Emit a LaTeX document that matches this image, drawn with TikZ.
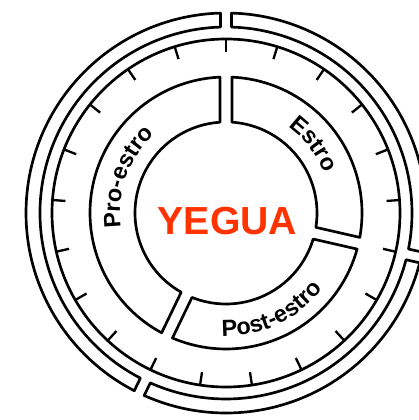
\documentclass[tikz,border=0pt]{standalone}
\usepackage{fontspec}
\setmainfont{Liberation Sans}
\usepackage{xcolor}
\usepackage{tikz}
\usetikzlibrary{decorations.text}
\definecolor{yeguared}{RGB}{255,51,0}

\begin{document}
\begin{tikzpicture}[x=0.6pt,y=0.6pt,
        ring/.style={line width=1.6pt,line join=round},
        daytick/.style={line width=1.4pt},
        phase/.style={decorate,decoration={text along path,text align=center,
            text={|\fontsize{14}{16}\selectfont\bfseries|#1}}},
        title/.style={font=\fontsize{23.5}{28}\selectfont\bfseries,text=yeguared}]
        \useasboundingbox (-226,-207) rectangle (193,213);
        \clip (-226,-207) rectangle (193,213);
        % phases and outer band, same cuts
        \foreach \a/\b in {90/244.286,-12.857/90,-115.714/-12.857}{
            \draw[ring] ({\a+asin(6/136)}:136) arc[start angle={\a+asin(6/136)},end angle={\b-asin(6/136)},radius=136]
                -- ({\b-asin(6/91)}:91) arc[start angle={\b-asin(6/91)},end angle={\a+asin(6/91)},radius=91] -- cycle;
            \draw[ring] ({\a+asin(5.5/200)}:200) arc[start angle={\a+asin(5.5/200)},end angle={\b-asin(5.5/200)},radius=200]
                -- ({\b-asin(5.5/186)}:186) arc[start angle={\b-asin(5.5/186)},end angle={\a+asin(5.5/186)},radius=186] -- cycle;
        }
        % day scale, 21 days
        \draw[ring] (0,0) circle[radius=174];
        \foreach \k in {0,...,20}
            \draw[daytick] ({90-\k*360/21}:174) -- ({90-\k*360/21}:161);
        \path[phase=Pro-estro] (205:106) arc[start angle=205,end angle=115,radius=106];
        \path[phase=Estro] (80:106) arc[start angle=80,end angle=-4,radius=106];
        \path[phase=Post-estro] (-115:123) arc[start angle=-115,end angle=-15,radius=123];
        \node[title] (yegua) at (1.5,-8) {YEGUA};
\end{tikzpicture}
\end{document}
